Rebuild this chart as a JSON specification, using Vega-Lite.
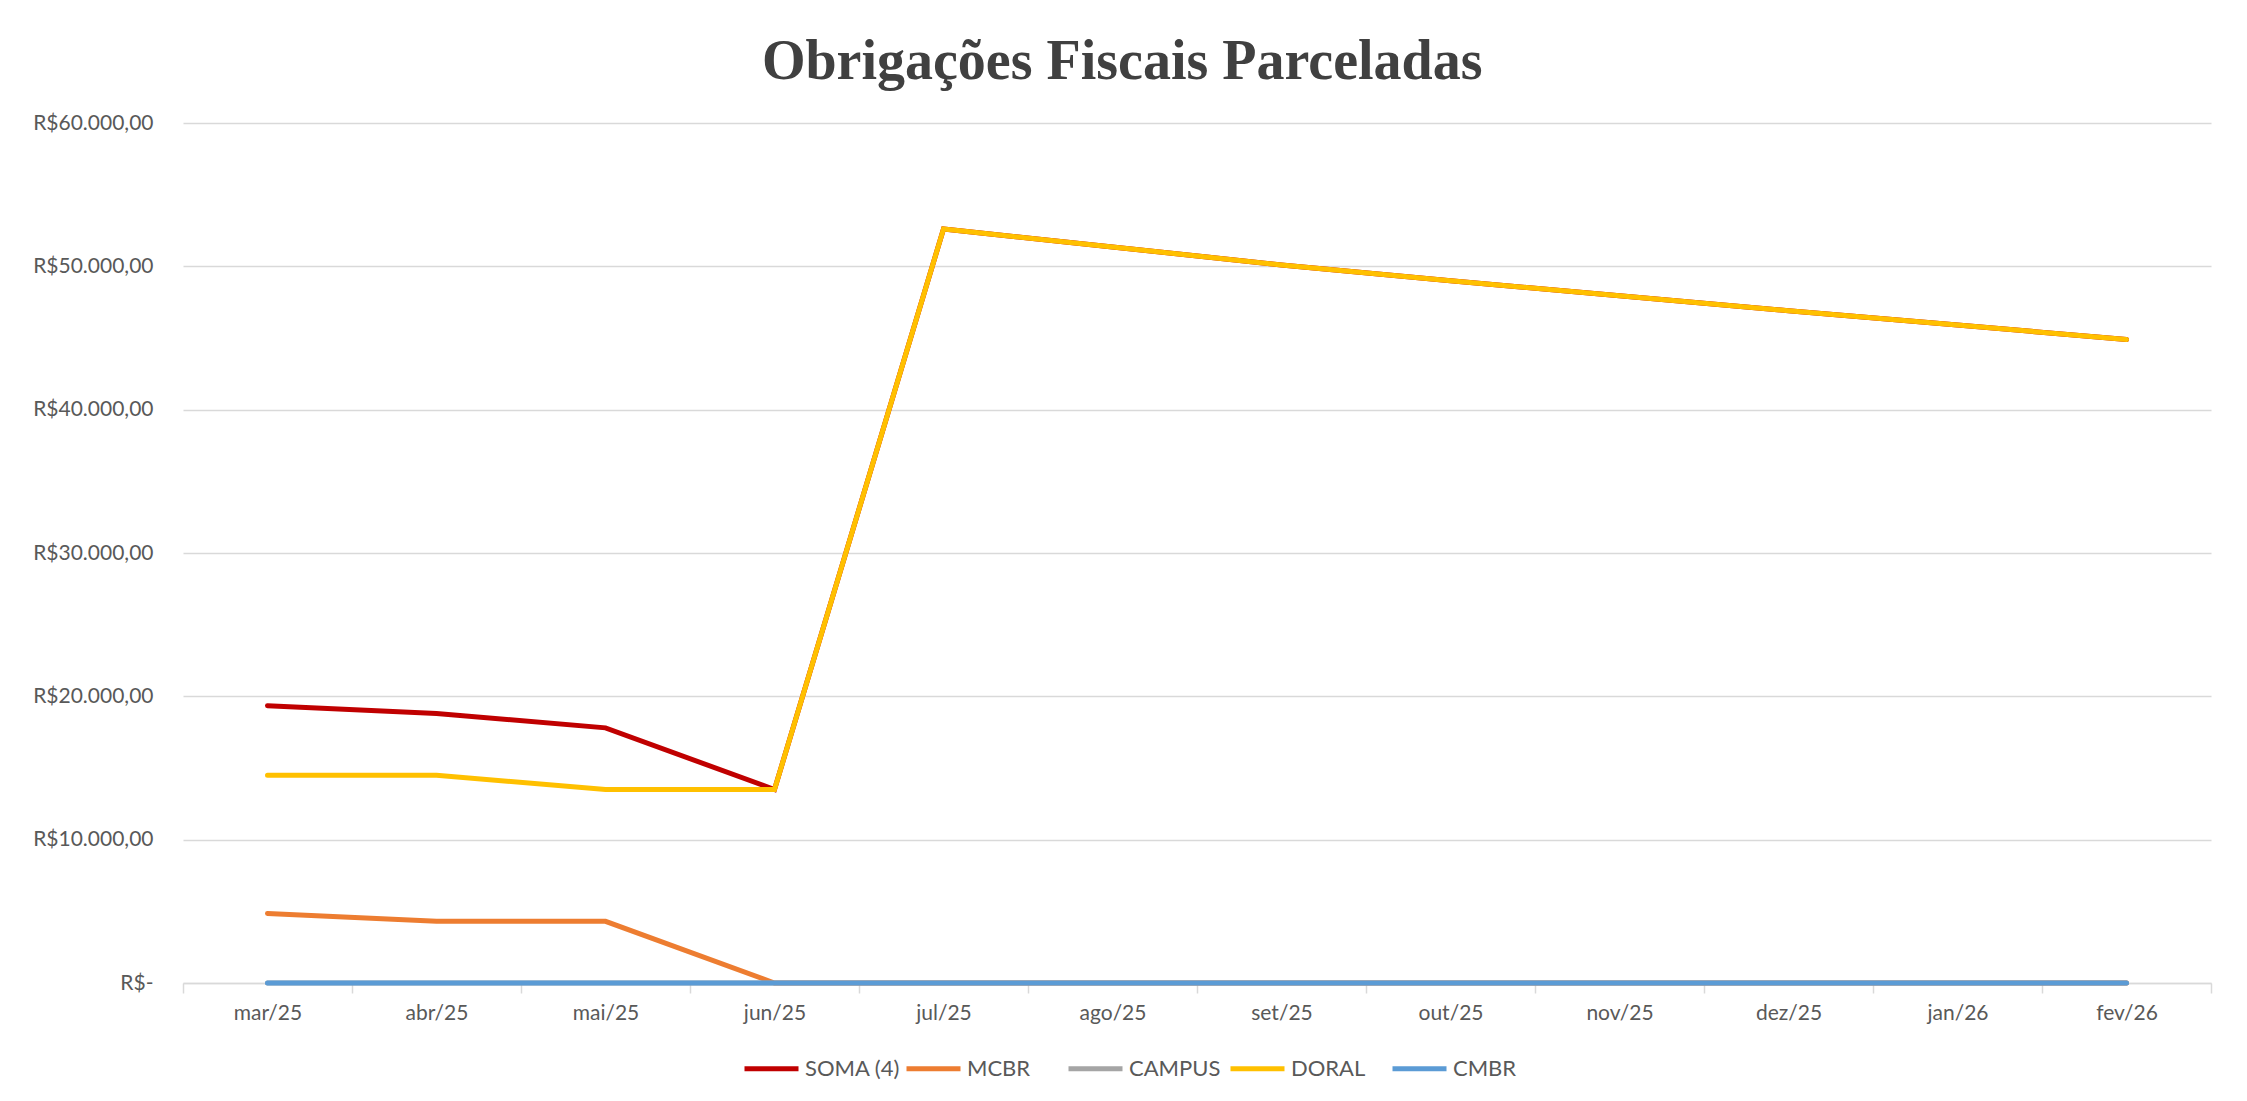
{
  "$schema": "https://vega.github.io/schema/vega-lite/v6.json",
  "width": 2028,
  "height": 860,
  "autosize": {"type": "none"},
  "padding": {"left": 183, "top": 123, "right": 36, "bottom": 118},
  "background": "white",
  "title": {
    "text": "Obrigações Fiscais Parceladas",
    "font": "Liberation Serif",
    "fontSize": 56,
    "fontWeight": "bold",
    "color": "#404040",
    "anchor": "middle",
    "frame": "bounds",
    "offset": 21
  },
  "data": {
    "values": [
      {"mes": "mar/25", "serie": "SOMA (4)", "valor": 19350},
      {"mes": "abr/25", "serie": "SOMA (4)", "valor": 18800},
      {"mes": "mai/25", "serie": "SOMA (4)", "valor": 17800},
      {"mes": "jun/25", "serie": "SOMA (4)", "valor": 13500},
      {"mes": "jul/25", "serie": "SOMA (4)", "valor": 52600},
      {"mes": "ago/25", "serie": "SOMA (4)", "valor": 51350},
      {"mes": "set/25", "serie": "SOMA (4)", "valor": 50100},
      {"mes": "out/25", "serie": "SOMA (4)", "valor": 49000},
      {"mes": "nov/25", "serie": "SOMA (4)", "valor": 47950},
      {"mes": "dez/25", "serie": "SOMA (4)", "valor": 46900},
      {"mes": "jan/26", "serie": "SOMA (4)", "valor": 45900},
      {"mes": "fev/26", "serie": "SOMA (4)", "valor": 44900},
      {"mes": "mar/25", "serie": "MCBR", "valor": 4850},
      {"mes": "abr/25", "serie": "MCBR", "valor": 4300},
      {"mes": "mai/25", "serie": "MCBR", "valor": 4300},
      {"mes": "jun/25", "serie": "MCBR", "valor": 0},
      {"mes": "jul/25", "serie": "MCBR", "valor": 0},
      {"mes": "ago/25", "serie": "MCBR", "valor": 0},
      {"mes": "set/25", "serie": "MCBR", "valor": 0},
      {"mes": "out/25", "serie": "MCBR", "valor": 0},
      {"mes": "nov/25", "serie": "MCBR", "valor": 0},
      {"mes": "dez/25", "serie": "MCBR", "valor": 0},
      {"mes": "jan/26", "serie": "MCBR", "valor": 0},
      {"mes": "fev/26", "serie": "MCBR", "valor": 0},
      {"mes": "mar/25", "serie": "CAMPUS", "valor": 0},
      {"mes": "abr/25", "serie": "CAMPUS", "valor": 0},
      {"mes": "mai/25", "serie": "CAMPUS", "valor": 0},
      {"mes": "jun/25", "serie": "CAMPUS", "valor": 0},
      {"mes": "jul/25", "serie": "CAMPUS", "valor": 0},
      {"mes": "ago/25", "serie": "CAMPUS", "valor": 0},
      {"mes": "set/25", "serie": "CAMPUS", "valor": 0},
      {"mes": "out/25", "serie": "CAMPUS", "valor": 0},
      {"mes": "nov/25", "serie": "CAMPUS", "valor": 0},
      {"mes": "dez/25", "serie": "CAMPUS", "valor": 0},
      {"mes": "jan/26", "serie": "CAMPUS", "valor": 0},
      {"mes": "fev/26", "serie": "CAMPUS", "valor": 0},
      {"mes": "mar/25", "serie": "DORAL", "valor": 14500},
      {"mes": "abr/25", "serie": "DORAL", "valor": 14500},
      {"mes": "mai/25", "serie": "DORAL", "valor": 13500},
      {"mes": "jun/25", "serie": "DORAL", "valor": 13500},
      {"mes": "jul/25", "serie": "DORAL", "valor": 52600},
      {"mes": "ago/25", "serie": "DORAL", "valor": 51350},
      {"mes": "set/25", "serie": "DORAL", "valor": 50100},
      {"mes": "out/25", "serie": "DORAL", "valor": 49000},
      {"mes": "nov/25", "serie": "DORAL", "valor": 47950},
      {"mes": "dez/25", "serie": "DORAL", "valor": 46900},
      {"mes": "jan/26", "serie": "DORAL", "valor": 45900},
      {"mes": "fev/26", "serie": "DORAL", "valor": 44900},
      {"mes": "mar/25", "serie": "CMBR", "valor": 0},
      {"mes": "abr/25", "serie": "CMBR", "valor": 0},
      {"mes": "mai/25", "serie": "CMBR", "valor": 0},
      {"mes": "jun/25", "serie": "CMBR", "valor": 0},
      {"mes": "jul/25", "serie": "CMBR", "valor": 0},
      {"mes": "ago/25", "serie": "CMBR", "valor": 0},
      {"mes": "set/25", "serie": "CMBR", "valor": 0},
      {"mes": "out/25", "serie": "CMBR", "valor": 0},
      {"mes": "nov/25", "serie": "CMBR", "valor": 0},
      {"mes": "dez/25", "serie": "CMBR", "valor": 0},
      {"mes": "jan/26", "serie": "CMBR", "valor": 0},
      {"mes": "fev/26", "serie": "CMBR", "valor": 0}
    ]
  },
  "mark": {"type": "line", "strokeWidth": 5, "strokeCap": "round", "strokeJoin": "miter"},
  "encoding": {
    "x": {
      "field": "mes",
      "type": "ordinal",
      "bandPosition": 0.5,
      "scale": {
        "type": "band",
        "paddingInner": 0,
        "paddingOuter": 0,
        "domain": ["mar/25", "abr/25", "mai/25", "jun/25", "jul/25", "ago/25", "set/25", "out/25", "nov/25", "dez/25", "jan/26", "fev/26"]
      },
      "axis": {
        "title": null,
        "labelAngle": 0,
        "labelFont": "Lato",
        "labelFontSize": 21,
        "labelColor": "#595959",
        "labelPadding": 9,
        "tickBand": "extent",
        "ticks": true,
        "tickSize": 10,
        "tickColor": "#d9d9d9",
        "tickWidth": 1.5,
        "domainColor": "#d9d9d9",
        "domainWidth": 1.5,
        "grid": false
      }
    },
    "y": {
      "field": "valor",
      "type": "quantitative",
      "scale": {"domain": [0, 60000], "nice": false},
      "axis": {
        "title": null,
        "values": [0, 10000, 20000, 30000, 40000, 50000, 60000],
        "labelExpr": "datum.value == 0 ? 'R$-' : 'R$' + format(datum.value / 1000, '.3f') + ',00'",
        "labelFont": "Lato",
        "labelFontSize": 21,
        "labelColor": "#595959",
        "labelPadding": 30,
        "ticks": false,
        "tickSize": 0,
        "domain": false,
        "grid": true,
        "gridColor": "#d9d9d9",
        "gridWidth": 1.5
      }
    },
    "color": {
      "field": "serie",
      "type": "nominal",
      "scale": {
        "domain": ["SOMA (4)", "MCBR", "CAMPUS", "DORAL", "CMBR"],
        "range": ["#C00000", "#ED7D31", "#A5A5A5", "#FFC000", "#5B9BD5"]
      },
      "legend": {
        "title": null,
        "orient": "none",
        "direction": "horizontal",
        "legendX": 559,
        "legendY": 916,
        "symbolType": "stroke",
        "symbolSize": 2916,
        "symbolStrokeWidth": 5,
        "labelFont": "Lato",
        "labelFontSize": 22,
        "labelColor": "#595959",
        "labelOffset": 4,
        "columnPadding": -5,
        "gridAlign": "all"
      }
    }
  },
  "config": {"view": {"stroke": null}}
}
